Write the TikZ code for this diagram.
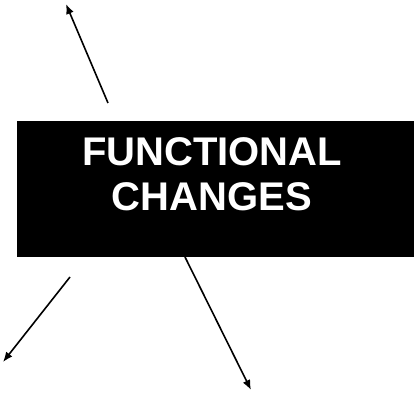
\documentclass[tikz,border=0pt]{standalone}
\usepackage{fontspec}
\setmainfont{Liberation Sans}
\usetikzlibrary{arrows.meta}
\begin{document}
\begin{tikzpicture}[x=1pt,y=-1pt,
  boxstyle/.style={fill=black,draw=none,minimum width=397pt,minimum height=136pt,inner sep=0pt},
  labelstyle/.style={text=white,font=\bfseries\fontsize{40}{45}\selectfont,align=center,inner sep=0pt},
  arrowstyle/.style={line width=1.6pt,-{Latex[length=10pt,width=8pt]}}]
\useasboundingbox (0,0) rectangle (416,393);
\node[boxstyle] (box) at (215.5,189) {};
\node[labelstyle,anchor=base] (label) at (212,211) {FUNCTIONAL\\CHANGES};
\coordinate (t1) at (108,103);
\coordinate (h1) at (66,4);
\coordinate (t2) at (70,277);
\coordinate (h2) at (3,362);
\coordinate (t3) at (185,257);
\coordinate (h3) at (251,390);
\draw[arrowstyle] (t1) -- (h1);
\draw[arrowstyle] (t2) -- (h2);
\draw[arrowstyle] (t3) -- (h3);
\end{tikzpicture}
\end{document}
